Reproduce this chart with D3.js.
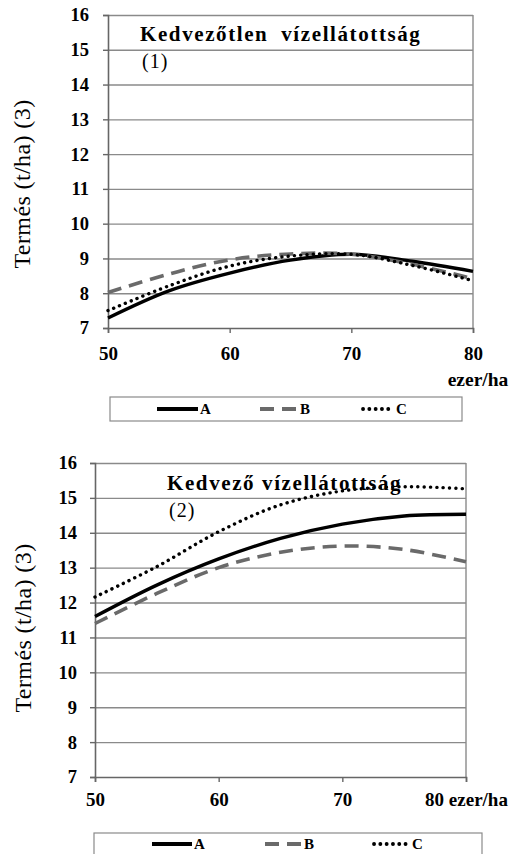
<!DOCTYPE html>
<html>
<head>
<meta charset="utf-8">
<script src="https://cdn.jsdelivr.net/npm/d3@7"></script>
<style>
  html, body { margin: 0; padding: 0; background: #fff; }
  svg { display: block; }
</style>
</head>
<body>
<svg id="chart" width="512" height="854"></svg>
<script>
// Plant density (thousand plants / ha)
const density = [50, 55, 60, 65, 70, 75, 80];
const densityTicks = [50, 60, 70, 80];
const yieldTicks = [7, 8, 9, 10, 11, 12, 13, 14, 15, 16];
const seriesNames = ["A", "B", "C"];

// Unfavourable water supply (1)
const dryA = [7.29, 8.07, 8.58, 8.95, 9.12, 8.92, 8.63];
const dryB = [8.02, 8.55, 8.96, 9.13, 9.12, 8.83, 8.42];
const dryC = [7.50, 8.21, 8.78, 9.07, 9.12, 8.80, 8.36];

// Favourable water supply (2)
const wetA = [11.60, 12.50, 13.25, 13.84, 14.25, 14.48, 14.53];
const wetB = [11.40, 12.26, 13.00, 13.44, 13.62, 13.52, 13.17];
const wetC = [12.16, 13.03, 14.03, 14.80, 15.20, 15.32, 15.26];

const SERIF = '"Liberation Serif"';

const lineStyles = {
  A: { color: "#000", width: 3.4, dash: null, cap: "butt" },
  B: { color: "#6a6a6a", width: 3.6, dash: "14 8", cap: "butt" },
  C: { color: "#000", width: 3.4, dash: "0.1 6.2", cap: "round" }
};

const svg = d3.select("#chart");

function serif(sel) {
  return sel.style("font-family", SERIF).style("fill", "#000");
}

function drawPanel(cfg) {
  const x = d3.scaleLinear().domain([50, 80]).range([cfg.left, cfg.right]);
  const y = d3.scaleLinear().domain([7, 16]).range([cfg.bottom, cfg.top]);
  const g = svg.append("g");

  // horizontal gridlines
  g.append("g")
    .attr("transform", `translate(${cfg.left},0)`)
    .call(d3.axisLeft(y).tickValues(yieldTicks.slice(1)).tickSize(-(cfg.right - cfg.left)).tickFormat(""))
    .call(s => s.select(".domain").remove())
    .call(s => s.selectAll("line").attr("stroke", "#8a8a8a").attr("stroke-width", 1.4));

  // right border
  g.append("line")
    .attr("x1", cfg.right).attr("x2", cfg.right)
    .attr("y1", cfg.top).attr("y2", cfg.bottom)
    .attr("stroke", "#8a8a8a").attr("stroke-width", 1.4);

  // left axis
  g.append("g")
    .attr("transform", `translate(${cfg.left},0)`)
    .call(d3.axisLeft(y).tickValues(yieldTicks).tickSize(5).tickPadding(cfg.yPad).tickFormat(d3.format("d")))
    .call(s => s.select(".domain").attr("stroke", "#666").attr("stroke-width", 1.6))
    .call(s => s.selectAll("line").attr("stroke", "#666").attr("stroke-width", 1.4))
    .call(s => serif(s.selectAll("text"))
      .style("font-weight", "bold").style("font-size", "18.5px"));

  // bottom axis
  g.append("g")
    .attr("transform", `translate(0,${cfg.bottom})`)
    .call(d3.axisBottom(x).tickValues(densityTicks).tickSize(5).tickPadding(cfg.xPad)
      .tickFormat(d => (d === 80 && cfg.unitInTick) ? "80 ezer/ha" : d3.format("d")(d)))
    .call(s => s.select(".domain").attr("stroke", "#666").attr("stroke-width", 1.6))
    .call(s => s.selectAll("line").attr("stroke", "#666").attr("stroke-width", 1.4))
    .call(s => serif(s.selectAll("text"))
      .style("font-weight", "bold").style("font-size", "19px"));

  // unit label below the last tick
  if (!cfg.unitInTick) {
    serif(g.append("text"))
      .attr("x", cfg.unitX).attr("y", cfg.unitY)
      .attr("text-anchor", "middle")
      .style("font-weight", "bold").style("font-size", "19.5px")
      .text("ezer/ha");
  }

  // y title
  serif(g.append("text"))
    .attr("transform", `translate(${cfg.yTitleX},${cfg.yTitleY}) rotate(-90)`)
    .attr("text-anchor", "middle")
    .style("font-size", "24px")
    .style("letter-spacing", "0.4px")
    .text("Termés (t/ha) (3)");

  // panel title and number
  serif(g.append("text"))
    .attr("x", cfg.titleX).attr("y", cfg.titleY)
    .style("font-weight", "bold").style("font-size", "21px")
    .style("letter-spacing", cfg.letterSpacing + "px")
    .style("word-spacing", cfg.wordSpacing + "px")
    .text(cfg.title);
  serif(g.append("text"))
    .attr("x", cfg.titleX + 2).attr("y", cfg.titleY + 27)
    .style("font-size", "20px")
    .style("letter-spacing", "1px")
    .text(cfg.number);

  // curves
  const line = d3.line()
    .x((d, i) => x(density[i]))
    .y(d => y(d))
    .curve(d3.curveCatmullRom.alpha(0.5));
  cfg.series.forEach((vals, k) => {
    const st = lineStyles[seriesNames[k]];
    g.append("path")
      .datum(vals)
      .attr("d", line)
      .attr("fill", "none")
      .attr("stroke", st.color)
      .attr("stroke-width", st.width)
      .attr("stroke-linecap", st.cap)
      .attr("stroke-dasharray", st.dash);
  });

  // legend
  const lg = g.append("g");
  lg.append("rect")
    .attr("x", cfg.legend.x0).attr("y", cfg.legend.y0)
    .attr("width", cfg.legend.x1 - cfg.legend.x0).attr("height", cfg.legend.h)
    .attr("fill", "#fff").attr("stroke", "#8a8a8a").attr("stroke-width", 1.2);
  const cy = cfg.legend.cy;
  cfg.legend.items.forEach((it, k) => {
    const st = lineStyles[seriesNames[k]];
    lg.append("line")
      .attr("x1", it[0]).attr("x2", it[1])
      .attr("y1", cy).attr("y2", cy)
      .attr("stroke", st.color).attr("stroke-width", st.width + 0.4)
      .attr("stroke-linecap", st.cap)
      .attr("stroke-dasharray", st.dash);
    serif(lg.append("text"))
      .attr("x", it[1] + 2).attr("y", cy + 5)
      .style("font-weight", "bold").style("font-size", "15px")
      .text(seriesNames[k]);
  });
}

drawPanel({
  left: 108, right: 473, top: 15, bottom: 328,
  yPad: 14, xPad: 14,
  unitInTick: false, unitX: 478, unitY: 386,
  yTitleX: 30, yTitleY: 184,
  titleX: 140, titleY: 41, letterSpacing: 1.6, wordSpacing: 6,
  title: "Kedvezőtlen vízellátottság", number: "(1)",
  series: [dryA, dryB, dryC],
  legend: { x0: 110, x1: 462, y0: 397, h: 24, cy: 409,
            items: [[157, 198], [260, 298], [363, 394]] }
});

drawPanel({
  left: 95, right: 466, top: 463, bottom: 777,
  yPad: 13, xPad: 11,
  unitInTick: true,
  yTitleX: 31, yTitleY: 628,
  titleX: 167, titleY: 490, letterSpacing: 1.6, wordSpacing: 0,
  title: "Kedvező vízellátottság", number: "(2)",
  series: [wetA, wetB, wetC],
  legend: { x0: 94, x1: 482, y0: 833, h: 30, cy: 844,
            items: [[152, 192], [265, 302], [374, 410]] }
});
</script>
</body>
</html>
